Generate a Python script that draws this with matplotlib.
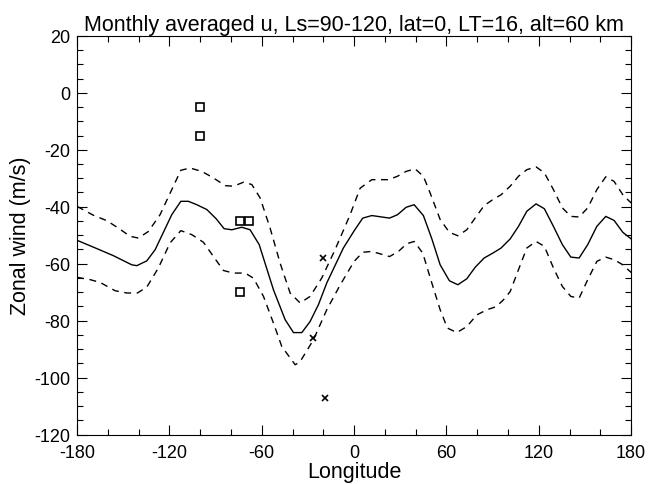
import matplotlib
matplotlib.use("Agg")
import matplotlib.pyplot as plt
from matplotlib.ticker import MultipleLocator
import numpy as np

plt.rcParams['font.family'] = ['Liberation Sans', 'DejaVu Sans']
plt.rcParams['axes.unicode_minus'] = False

# 平均値
lon_mean = [-180, -169.4, -156.4, -144.5, -141.2, -134.7, -129.3, -118.5, -112.6, -107.7,
            -102.2, -95.7, -89.7, -84.5, -79.5, -73.0, -67.6, -61.7, -52.4, -44.8,
            -39.4, -34.0, -28.6, -23.2, -17.8, -7.0, 0.2, 5.6, 11.5, 23.0,
            28.2, 33.8, 39.0, 45.0, 50.5, 55.9, 61.9, 67.4, 73.2, 78.6,
            84.5, 90.1, 95.5, 101.4, 106.8, 112.2, 118.2, 123.6, 129.5, 135.3,
            140.8, 146.2, 151.8, 157.7, 163.5, 168.9, 174.6, 180]
u_mean = [-51.8, -54.2, -57.2, -60.4, -60.7, -59.0, -55.1, -42.8, -38.1, -38.1,
          -39.3, -41.0, -44.2, -47.7, -48.1, -47.2, -48.1, -53.3, -69.2, -79.7,
          -84.2, -84.2, -80.3, -74.4, -66.8, -54.5, -48.3, -44.0, -43.1, -44.0,
          -42.8, -40.2, -39.3, -43.1, -51.3, -60.4, -66.0, -67.4, -65.3, -61.3,
          -58.0, -56.3, -54.5, -51.3, -46.9, -41.6, -39.0, -40.7, -46.9, -53.3,
          -57.7, -58.0, -53.3, -46.9, -43.4, -44.8, -49.0, -51.3]

# 上側 (+1 sigma)
lon_hi = [-180, -169.4, -160.7, -153.2, -145.6, -140.2, -133.7, -126.1, -118.5, -112.6,
          -106.6, -99.0, -91.4, -83.8, -78.4, -71.9, -66.5, -61.1, -54.6, -48.1,
          -41.6, -35.1, -28.6, -21.0, -12.4, -2.6, 3.9, 11.5, 22.3, 28.2,
          33.8, 39.6, 45.0, 49.4, 55.9, 61.9, 67.4, 73.2, 78.6, 84.5,
          90.1, 95.5, 101.4, 106.8, 112.2, 118.2, 123.6, 129.5, 135.3, 140.8,
          146.2, 151.8, 157.7, 163.5, 168.9, 174.6, 180]
u_hi = [-39.9, -43.0, -44.9, -47.5, -50.4, -51.0, -48.7, -42.8, -34.0, -27.2,
        -26.4, -27.6, -29.9, -32.6, -32.8, -31.4, -32.2, -36.9, -47.5, -59.8,
        -70.3, -73.8, -71.5, -65.0, -55.1, -42.8, -33.5, -30.5, -30.5, -29.3,
        -27.6, -26.7, -29.3, -35.2, -44.5, -49.0, -50.2, -48.1, -44.0, -39.6,
        -37.5, -35.8, -32.8, -29.3, -27.0, -26.0, -28.1, -34.0, -40.4, -43.4,
        -43.6, -40.4, -34.0, -29.5, -31.1, -35.8, -38.7]

# 下側 (-1 sigma)
lon_lo = [-180, -171.6, -165.0, -155.3, -147.7, -140.8, -134.7, -127.2, -119.6, -112.6,
          -105.5, -97.9, -91.4, -84.9, -78.4, -70.8, -65.4, -58.9, -52.4, -47.0,
          -38.3, -35.1, -26.5, -17.8, -9.1, 0.0, 5.6, 11.5, 23.0, 28.8,
          34.2, 39.0, 44.6, 49.8, 55.9, 60.6, 66.7, 73.2, 79.7, 86.2,
          92.3, 97.0, 101.4, 106.8, 112.2, 118.2, 123.6, 129.5, 135.3, 140.8,
          146.2, 151.8, 157.7, 163.5, 168.9, 174.6, 180]
u_lo = [-64.8, -65.6, -66.6, -69.5, -70.3, -70.3, -68.2, -61.5, -52.7, -48.4,
        -49.8, -52.5, -57.5, -62.4, -63.3, -63.3, -65.1, -71.5, -80.9, -89.1,
        -95.5, -94.4, -86.8, -76.2, -67.5, -59.2, -56.0, -55.7, -57.5, -55.7,
        -53.0, -52.2, -56.3, -65.6, -76.2, -82.6, -84.2, -82.1, -78.0, -76.2,
        -75.1, -72.7, -69.8, -62.1, -54.5, -52.2, -53.9, -61.5, -68.0, -71.5,
        -72.1, -65.6, -59.2, -57.7, -58.6, -60.4, -63.1]

# 観測値
sq_lon = [-100, -100, -74, -68, -74]
sq_u = [-5, -15, -45, -45, -70]
x_lon = [-20, -27, -19]
x_u = [-58, -86, -107]

fig = plt.figure(figsize=(6.48, 4.85), dpi=100)
ax = fig.add_axes([0.119, 0.102, 0.855, 0.822])

ax.plot(lon_mean, u_mean, color="black", lw=1.0)
ax.plot(lon_hi, u_hi, color="black", lw=1.0, dashes=(5, 4))
ax.plot(lon_lo, u_lo, color="black", lw=1.0, dashes=(5, 4))
ax.plot(sq_lon, sq_u, ls="none", marker="s", ms=6, mfc="none", mec="black", mew=1.2)
ax.plot(x_lon, x_u, ls="none", marker="x", ms=5, color="black", mew=1.2)

ax.set_xlim(-180, 180)
ax.set_ylim(-120, 20)
ax.xaxis.set_major_locator(MultipleLocator(60))
ax.xaxis.set_minor_locator(MultipleLocator(20))
ax.yaxis.set_major_locator(MultipleLocator(20))
ax.yaxis.set_minor_locator(MultipleLocator(5))
ax.tick_params(which="both", direction="in", top=True, right=True, labelsize=13, width=0.8)
ax.tick_params(which="major", length=7)
ax.tick_params(which="minor", length=4)
ax.tick_params(axis="x", which="major", pad=7)
ax.tick_params(axis="y", which="major", pad=5)
for s in ax.spines.values():
    s.set_linewidth(0.8)

ax.set_xlabel("Longitude", fontsize=15.5, labelpad=0)
ax.set_ylabel("Zonal wind (m/s)", fontsize=15.5, labelpad=2)
ax.set_title("Monthly averaged u, Ls=90-120, lat=0, LT=16, alt=60 km", fontsize=15.5, pad=4)

fig.savefig("out.png", dpi=100)
